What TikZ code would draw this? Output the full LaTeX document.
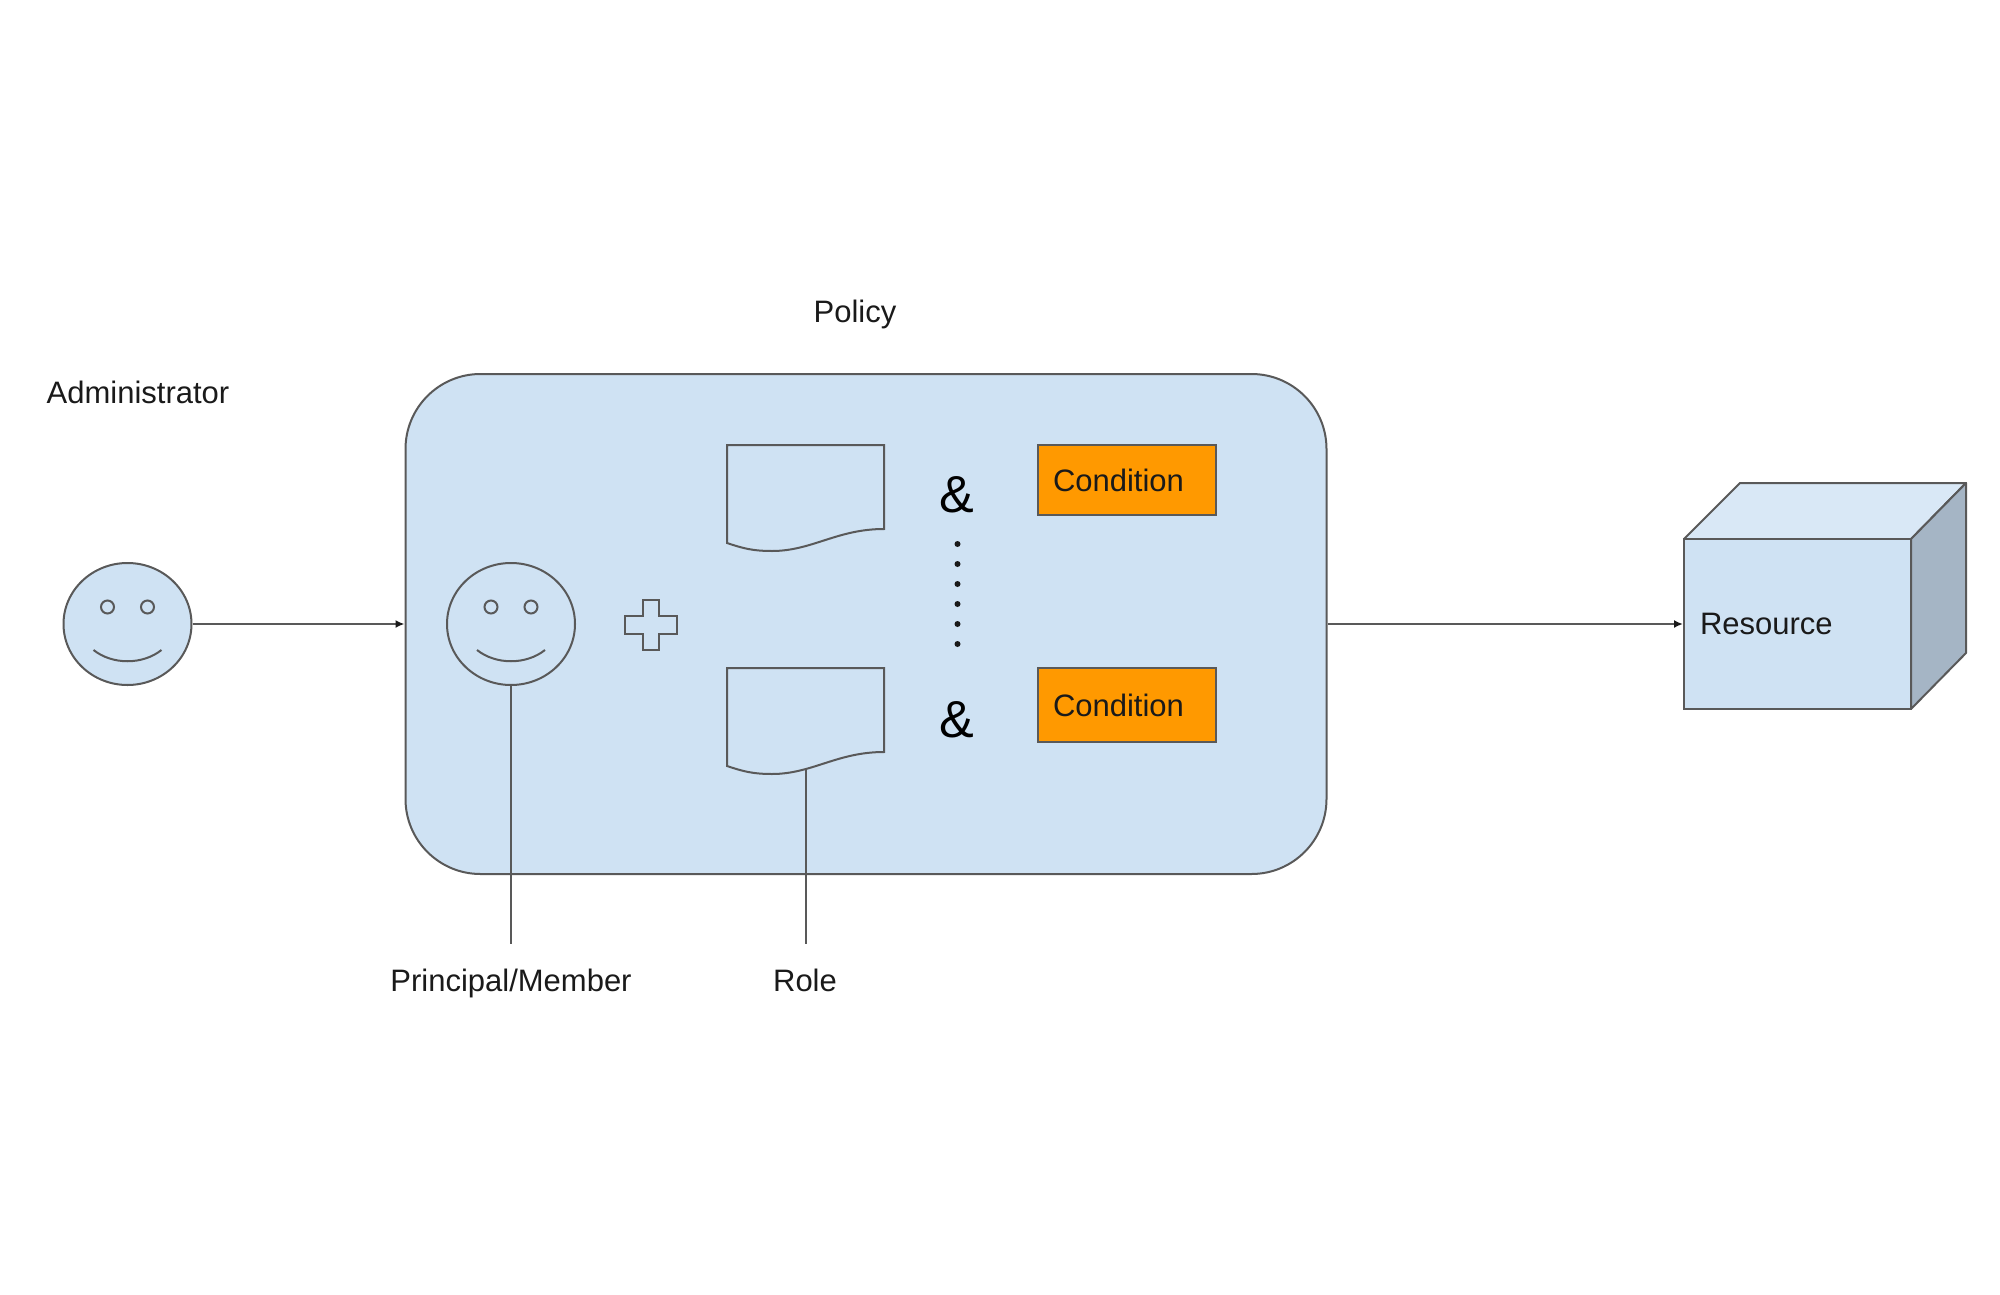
\documentclass[tikz,border=0pt]{standalone}
\usepackage{fontspec}
\setmainfont{Liberation Sans}
\usetikzlibrary{calc,positioning,arrows.meta,shapes.geometric}
\definecolor{panel}{HTML}{CFE2F3}
\definecolor{lid}{HTML}{D9E8F6}
\definecolor{side}{HTML}{A5B5C5}
\definecolor{cond}{HTML}{FF9900}
\definecolor{edge}{HTML}{595959}
\definecolor{ink}{HTML}{1A1A1A}
\tikzset{
  txt/.style={font=\fontsize{31}{36}\selectfont,text=ink},
  lbl/.style={txt,inner sep=0pt,text height=23pt,text depth=7pt},
  shp/.style={draw=edge,line width=2pt},
  face/.style={shp,ellipse,fill=panel,minimum width=128pt,minimum height=122pt,inner sep=0pt},
  condbox/.style={shp,fill=cond,txt,text width=148pt,align=left,inner xsep=15pt,inner ysep=0pt},
  conn/.style={draw=edge,line width=2pt},
  tip/.style={conn,-{Latex[length=9pt,width=8pt,fill=ink,ink]}}
}
\begin{document}
\begin{tikzpicture}[x=1pt,y=-1pt]
\useasboundingbox (0,0) rectangle (2000,1295);
\node[shp,fill=panel,rounded corners=75pt,minimum width=921pt,minimum height=500pt,inner sep=0pt] (policy) at (866,624) {};
\node[lbl] (policylbl) at (855,314) {Policy};
\node[lbl] (adminlbl) at (138,395) {Administrator};
\node[face] (admin) at (127.5,624) {};
\node[face] (member) at (511,624) {};
\foreach \f in {admin,member} {
  \draw[shp] ($(\f)+(-20,-17)$) circle (6.5pt);
  \draw[shp] ($(\f)+(20,-17)$) circle (6.5pt);
  \draw[shp] ($(\f)+(-34,26)$) .. controls ($(\f)+(-15,41)$) and ($(\f)+(15,41)$) .. ($(\f)+(34,26)$);
}
\draw[shp,fill=panel,shift={(651,625)}] (-8,-25) -- (8,-25) -- (8,-9) -- (26,-9) -- (26,9) -- (8,9) -- (8,25) -- (-8,25) -- (-8,9) -- (-26,9) -- (-26,-9) -- (-8,-9) -- cycle;
\foreach \y in {445,668} {
  \draw[shp,fill=panel,shift={(727,\y)}] (0,0) -- (157,0) -- (157,84) .. controls (110,84) and (85,106) .. (45,106) .. controls (25,106) and (15,103) .. (0,98) -- cycle;
}
\foreach \y [count=\k] in {495,720} {
  \node[text=black,font=\fontsize{52}{60}\selectfont,inner sep=0pt] (amp\k) at (957,\y) {\&};
}
\foreach \k in {0,...,5} {
  \fill[ink] (957.5,544+20*\k) circle (3pt);
}
\node[condbox,minimum height=70pt] (cond1) at (1127,480) {Condition};
\node[condbox,minimum height=74pt] (cond2) at (1127,705) {Condition};
\fill[lid,draw=edge,line width=2pt,line join=round] (1684,539) -- (1740,483) -- (1966,483) -- (1911,539) -- cycle;
\fill[side,draw=edge,line width=2pt,line join=round] (1911,539) -- (1966,483) -- (1966,653) -- (1911,709) -- cycle;
\node[shp,fill=panel,txt,minimum width=227pt,minimum height=170pt,text width=195pt,align=left,inner xsep=16pt,inner ysep=0pt] (resource) at (1797.5,624) {\raisebox{-1pt}{Resource}};
\node[lbl] (memberlbl) at (511,983) {Principal/Member};
\node[lbl] (rolelbl) at (805,983) {Role};
\coordinate (memberend) at (511,944);
\coordinate (rolestart) at (806,768);
\coordinate (roleend) at (806,944);
\draw[tip] (admin.east) -- (policy.west);
\draw[tip] (policy.east) -- (resource.west);
\draw[conn] (member.south) -- (memberend);
\draw[conn] (rolestart) -- (roleend);
\end{tikzpicture}
\end{document}
